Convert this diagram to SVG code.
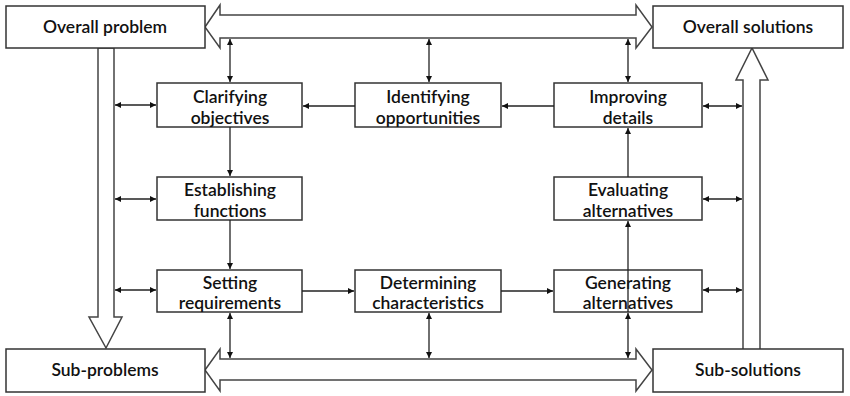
<svg xmlns="http://www.w3.org/2000/svg" width="850" height="396" viewBox="0 0 850 396">
<style>
.box{fill:#fff;stroke:#333;stroke-width:1.5}
.big{fill:#fff;stroke:#444;stroke-width:1.5;stroke-linejoin:miter}
.t{font-family:Lato,"Liberation Sans",sans-serif;font-size:17.5px;font-weight:600;fill:#111;text-anchor:middle}
.c{stroke:#222;stroke-width:1.3;fill:none}
.cd{stroke:#222;stroke-width:1.3;fill:none;marker-end:url(#ah);marker-start:url(#as)}
.cs{stroke:#222;stroke-width:1.3;fill:none;marker-end:url(#ah)}
</style>
<defs>
<marker id="ah" markerWidth="8" markerHeight="8" refX="6" refY="3" orient="auto" markerUnits="userSpaceOnUse"><path d="M0,0 L6,3 L0,6 Z" fill="#111"/></marker>
<marker id="as" markerWidth="8" markerHeight="8" refX="0" refY="3" orient="auto" markerUnits="userSpaceOnUse"><path d="M6,0 L0,3 L6,6 Z" fill="#111"/></marker>
</defs>
<g id="big-arrows">
<path class="big" d="M205,27 L220,5 L220,15 L636,15 L636,5 L652,27 L636,48 L636,38 L220,38 L220,48 Z"/>
<path class="big" d="M205,370 L220,349 L220,359 L636,359 L636,349 L652,370 L636,391 L636,380 L220,380 L220,391 Z"/>
<path class="big" d="M98,48 L114,48 L114,317 L122,317 L106,348 L89,317 L98,317 Z"/>
<path class="big" d="M743,350 L743,80 L736,80 L752,48 L768,80 L760,80 L760,350 Z"/>
</g>
<g id="overall-problem"><rect class="box" x="6" y="6" width="199" height="42"/><text class="t" x="105" y="33">Overall problem</text></g>
<g id="overall-solutions"><rect class="box" x="653" y="6" width="190" height="42"/><text class="t" x="748" y="33">Overall solutions</text></g>
<g id="sub-problems"><rect class="box" x="6" y="349" width="199" height="43"/><text class="t" x="105" y="376">Sub-problems</text></g>
<g id="sub-solutions"><rect class="box" x="653" y="349" width="190" height="43"/><text class="t" x="748" y="376">Sub-solutions</text></g>
<g id="clarifying"><rect class="box" x="157" y="83" width="145" height="44"/><text class="t" x="230" y="103">Clarifying</text><text class="t" x="230" y="124">objectives</text></g>
<g id="identifying"><rect class="box" x="355" y="83" width="146" height="44"/><text class="t" x="428" y="103">Identifying</text><text class="t" x="428" y="124">opportunities</text></g>
<g id="improving"><rect class="box" x="554" y="83" width="148" height="44"/><text class="t" x="628" y="103">Improving</text><text class="t" x="628" y="124">details</text></g>
<g id="establishing"><rect class="box" x="157" y="177" width="145" height="43"/><text class="t" x="230" y="196">Establishing</text><text class="t" x="230" y="217">functions</text></g>
<g id="evaluating"><rect class="box" x="554" y="177" width="148" height="43"/><text class="t" x="628" y="196">Evaluating</text><text class="t" x="628" y="217">alternatives</text></g>
<g id="setting"><rect class="box" x="157" y="270" width="145" height="42"/><text class="t" x="230" y="289">Setting</text><text class="t" x="230" y="309">requirements</text></g>
<g id="determining"><rect class="box" x="355" y="270" width="146" height="42"/><text class="t" x="428" y="289">Determining</text><text class="t" x="428" y="309">characteristics</text></g>
<g id="generating"><rect class="box" x="554" y="270" width="148" height="42"/><text class="t" x="628" y="289">Generating</text><text class="t" x="628" y="309">alternatives</text></g>
<g id="connectors">
<line class="cd" x1="230" y1="39" x2="230" y2="82"/>
<line class="cd" x1="429" y1="39" x2="429" y2="82"/>
<line class="cd" x1="628" y1="39" x2="628" y2="82"/>
<line class="cd" x1="115" y1="105" x2="156" y2="105"/>
<line class="cd" x1="115" y1="199" x2="156" y2="199"/>
<line class="cd" x1="115" y1="290" x2="156" y2="290"/>
<line class="cd" x1="703" y1="106" x2="742" y2="106"/>
<line class="cd" x1="703" y1="199" x2="742" y2="199"/>
<line class="cd" x1="703" y1="290" x2="742" y2="290"/>
<line class="cs" x1="355" y1="106" x2="303" y2="106"/>
<line class="cs" x1="554" y1="106" x2="502" y2="106"/>
<line class="cs" x1="230" y1="127" x2="230" y2="176"/>
<line class="cs" x1="230" y1="220" x2="230" y2="269"/>
<line class="cs" x1="302" y1="291" x2="354" y2="291"/>
<line class="cs" x1="501" y1="291" x2="553" y2="291"/>
<line class="cs" x1="628" y1="312" x2="628" y2="221"/>
<line class="cs" x1="628" y1="177" x2="628" y2="128"/>
<line class="cd" x1="230" y1="313" x2="230" y2="358"/>
<line class="cd" x1="429" y1="313" x2="429" y2="358"/>
<line class="cd" x1="628" y1="313" x2="628" y2="358"/>
</g>
</svg>
